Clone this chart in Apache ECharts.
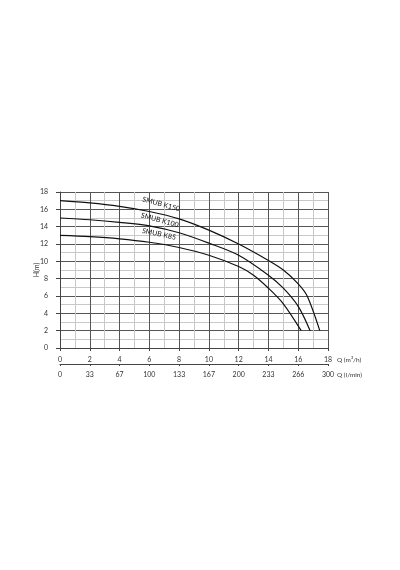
<!DOCTYPE html>
<html>
<head>
<meta charset="utf-8">
<script src="https://cdn.jsdelivr.net/npm/echarts@6/dist/echarts.min.js"></script>
<style>
  html, body { margin: 0; padding: 0; background: #fff; }
  #main { width: 400px; height: 570px; }
</style>
</head>
<body>
<div id="main"></div>
<script>
// Q in m3/h, H in m
var curveK150 = [[0, 17], [2, 16.75], [4, 16.35], [6, 15.75], [8, 14.9], [10, 13.6], [12, 12.0], [14, 10.1], [15, 9.0], [16, 7.4], [16.6, 6.0], [17.45, 2]];
var curveK100 = [[0, 15], [2, 14.8], [4, 14.5], [6, 14.1], [8, 13.3], [10, 12.1], [12, 10.7], [14, 8.4], [15, 6.9], [16, 4.8], [16.8, 2]];
var curveK85 = [[0, 13], [2, 12.85], [4, 12.6], [6, 12.2], [8, 11.6], [10, 10.7], [12, 9.4], [13, 8.4], [14, 6.9], [15, 5.1], [16.2, 2]];

var seriesNames = ['SMUB K150', 'SMUB K100', 'SMUB K85'];
// where each curve's name sits (Q, H) and its tilt
var labelSpots = [[6.8, 16.6], [6.7, 14.75], [6.65, 13.15]];
var labelTilt = [-15, -15, -12];

// second scale: l/min labels under each m3/h tick
var lminLabels = ['0', '33', '67', '100', '133', '167', '200', '233', '266', '300'];

var font = 'Lato, "Open Sans", sans-serif';
var txt = { color: '#333', fontSize: 7, fontFamily: font };

var myChart = echarts.init(document.getElementById('main'));

function makeSeries(name, data, i) {
    return {
        name: name,
        type: 'line',
        data: data,
        smooth: 0.3,
        symbol: 'none',
        lineStyle: { color: '#111', width: 1.2 },
        markPoint: {
            symbol: 'circle',
            symbolSize: 0,
            data: [{ coord: labelSpots[i] }],
            label: {
                show: true,
                formatter: name,
                position: 'inside',
                rotate: labelTilt[i],
                color: '#111',
                fontSize: 7,
                fontFamily: font
            }
        }
    };
}

myChart.setOption({
    animation: false,
    backgroundColor: '#fff',
    grid: { left: 60, right: 72, top: 192, bottom: 222 },
    xAxis: [
        {
            type: 'value',
            min: 0, max: 18, interval: 2,
            name: 'Q (m³/h)',
            nameLocation: 'end',
            nameGap: 9,
            nameMoveOverlap: false,
            nameTextStyle: { color: '#333', fontSize: 6.5, fontFamily: font, verticalAlign: 'top', padding: [8, 0, 0, 0] },
            axisLine: { show: true, lineStyle: { color: '#444', width: 1 } },
            axisTick: { show: true, length: 3, lineStyle: { color: '#444' } },
            axisLabel: Object.assign({ margin: 8 }, txt),
            splitLine: { show: true, lineStyle: { color: '#555', width: 1 } },
            minorTick: { show: false, splitNumber: 2 },
            minorSplitLine: { show: true, lineStyle: { color: '#c8c8c8', width: 1 } }
        },
        {
            type: 'value',
            min: 0, max: 18, interval: 2,
            position: 'bottom',
            offset: 16,
            name: 'Q (l/min)',
            nameLocation: 'end',
            nameGap: 9,
            nameMoveOverlap: false,
            nameTextStyle: { color: '#333', fontSize: 6.5, fontFamily: font, verticalAlign: 'top', padding: [7, 0, 0, 0] },
            axisLine: { show: true, lineStyle: { color: '#444', width: 1 } },
            axisTick: { show: true, length: 2, lineStyle: { color: '#444' } },
            axisLabel: Object.assign({
                margin: 7,
                formatter: function (v) { return lminLabels[Math.round(v / 2)]; }
            }, txt),
            splitLine: { show: false }
        }
    ],
    yAxis: {
        type: 'value',
        min: 0, max: 18, interval: 2,
        name: 'H(m)',
        nameLocation: 'middle',
        nameGap: 20,
        nameMoveOverlap: false,
        nameRotate: 90,
        nameTextStyle: { color: '#333', fontSize: 7, fontFamily: font },
        axisLine: { show: true, lineStyle: { color: '#444', width: 1 } },
        axisTick: { show: true, length: 4, lineStyle: { color: '#444' } },
        axisLabel: Object.assign({ margin: 12 }, txt),
        splitLine: { show: true, lineStyle: { color: '#555', width: 1 } },
        minorTick: { show: false, splitNumber: 2 },
        minorSplitLine: { show: true, lineStyle: { color: '#c8c8c8', width: 1 } }
    },
    series: [
        makeSeries(seriesNames[0], curveK150, 0),
        makeSeries(seriesNames[1], curveK100, 1),
        makeSeries(seriesNames[2], curveK85, 2)
    ]
});
</script>
</body>
</html>
